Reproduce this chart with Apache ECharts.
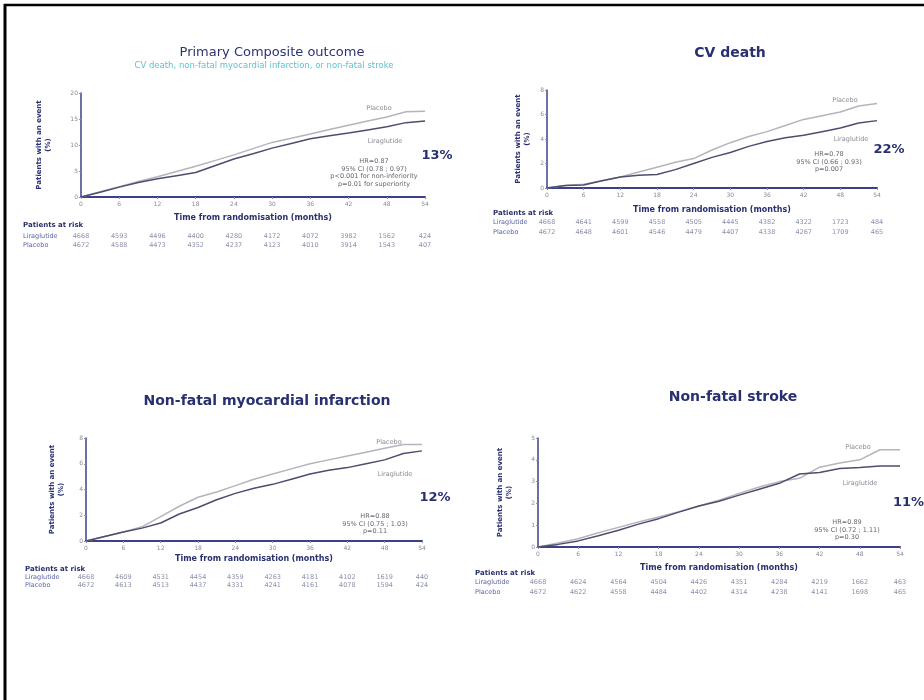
<!DOCTYPE html>
<html>
<head>
<meta charset="utf-8">
<script src="https://cdn.jsdelivr.net/npm/echarts@6/dist/echarts.min.js"></script>
<style>
  html, body { margin: 0; padding: 0; background: #fff; }
  #chart { width: 924px; height: 700px; }
</style>
</head>
<body>
<div id="chart"></div>
<script>
// Time axis of the cumulative-incidence curves (months from randomisation)
const months = [0, 3, 6, 9, 12, 15, 18, 21, 24, 27, 30, 33, 36, 39, 42, 45, 48, 51, 54];
// Time points of the patients-at-risk table
const riskMonths = [0, 6, 12, 18, 24, 30, 36, 42, 48, 54];
const armNames = ['Liraglutide', 'Placebo'];

// Primary composite outcome (% with an event)
const compositePlacebo = [0, 1.0, 2.0, 3.0, 3.9, 4.9, 5.9, 7.0, 8.1, 9.3, 10.5, 11.3, 12.1, 13.0, 13.8, 14.6, 15.4, 16.4, 16.5];
const compositeLira    = [0, 0.9, 1.9, 2.8, 3.5, 4.1, 4.7, 6.0, 7.3, 8.3, 9.4, 10.3, 11.2, 11.8, 12.3, 12.9, 13.5, 14.3, 14.6];
const compositeRiskLira    = [4668, 4593, 4496, 4400, 4280, 4172, 4072, 3982, 1562, 424];
const compositeRiskPlacebo = [4672, 4588, 4473, 4352, 4237, 4123, 4010, 3914, 1543, 407];

// CV death
const cvPlacebo = [0, 0.2, 0.3, 0.6, 0.9, 1.3, 1.7, 2.1, 2.4, 3.1, 3.7, 4.2, 4.6, 5.1, 5.6, 5.9, 6.2, 6.7, 6.9];
const cvLira    = [0, 0.2, 0.25, 0.6, 0.9, 1.05, 1.1, 1.5, 2.0, 2.5, 2.9, 3.4, 3.8, 4.1, 4.3, 4.6, 4.9, 5.3, 5.5];
const cvRiskLira    = [4668, 4641, 4599, 4558, 4505, 4445, 4382, 4322, 1723, 484];
const cvRiskPlacebo = [4672, 4648, 4601, 4546, 4479, 4407, 4338, 4267, 1709, 465];

// Non-fatal myocardial infarction
const miPlacebo = [0, 0.35, 0.7, 1.1, 1.9, 2.7, 3.4, 3.8, 4.3, 4.8, 5.2, 5.6, 6.0, 6.3, 6.6, 6.9, 7.2, 7.5, 7.5];
const miLira    = [0, 0.35, 0.7, 1.0, 1.4, 2.1, 2.6, 3.2, 3.7, 4.1, 4.4, 4.8, 5.2, 5.5, 5.7, 6.0, 6.3, 6.8, 7.0];
const miRiskLira    = [4668, 4609, 4531, 4454, 4359, 4263, 4181, 4102, 1619, 440];
const miRiskPlacebo = [4672, 4613, 4513, 4437, 4331, 4241, 4161, 4078, 1594, 424];

// Non-fatal stroke
const strokePlacebo = [0, 0.18, 0.38, 0.65, 0.9, 1.15, 1.38, 1.62, 1.88, 2.15, 2.46, 2.75, 3.0, 3.15, 3.66, 3.85, 4.0, 4.46, 4.46];
const strokeLira    = [0, 0.12, 0.28, 0.52, 0.77, 1.05, 1.3, 1.6, 1.88, 2.1, 2.38, 2.65, 2.92, 3.35, 3.42, 3.6, 3.65, 3.72, 3.72];
const strokeRiskLira    = [4668, 4624, 4564, 4504, 4426, 4351, 4284, 4219, 1662, 463];
const strokeRiskPlacebo = [4672, 4622, 4558, 4484, 4402, 4314, 4238, 4141, 1698, 465];

// Y-axis scales of the four panels
const yMax = [20, 8, 8, 5];
const yStep = [5, 2, 2, 1];

const FONT = 'DejaVu Sans';
const NAVY = '#28306f';
const GREY_TXT = '#6d6f84';
const LIRA_COLOR = '#4b4e6e';
const PLACEBO_COLOR = '#b4b4bc';

// Panel layout (plot areas and patients-at-risk strips)
const panels = [
  { grid: { left: 81, top: 93, width: 344, height: 104 }, risk: { top: 232, height: 18 }, rowLeft: 23, yGap: 28, xGap: 17,
    placebo: compositePlacebo, lira: compositeLira, riskL: compositeRiskLira, riskP: compositeRiskPlacebo },
  { grid: { left: 547, top: 90, width: 330, height: 98 }, risk: { top: 217, height: 20 }, rowLeft: 493, yGap: 15, xGap: 18,
    placebo: cvPlacebo, lira: cvLira, riskL: cvRiskLira, riskP: cvRiskPlacebo },
  { grid: { left: 86, top: 438, width: 336, height: 103 }, risk: { top: 573, height: 16 }, rowLeft: 25, yGap: 20, xGap: 14,
    placebo: miPlacebo, lira: miLira, riskL: miRiskLira, riskP: miRiskPlacebo },
  { grid: { left: 538, top: 438, width: 362, height: 109 }, risk: { top: 577, height: 20 }, rowLeft: 475, yGap: 24, xGap: 17,
    placebo: strokePlacebo, lira: strokeLira, riskL: strokeRiskLira, riskP: strokeRiskPlacebo }
];

const grids = [], xAxes = [], yAxes = [], series = [];

panels.forEach((p, i) => {
  grids.push(Object.assign({ containLabel: false }, p.grid));
  xAxes.push({
    gridIndex: i, type: 'value', min: 0, max: 54, interval: 6,
    name: 'Time from randomisation (months)', nameLocation: 'middle', nameGap: p.xGap,
    nameTextStyle: { fontFamily: FONT, fontSize: 8, fontWeight: 'bold', color: NAVY },
    axisLine: { lineStyle: { color: '#3a4188', width: 2 } },
    axisTick: { length: 2, lineStyle: { color: '#8a8db0' } },
    axisLabel: { fontFamily: FONT, fontSize: 6, color: '#8a8a96', margin: 4 },
    splitLine: { show: false }
  });
  yAxes.push({
    gridIndex: i, type: 'value', min: 0, max: yMax[i], interval: yStep[i],
    name: 'Patients with an event\n(%)', nameLocation: 'middle', nameGap: p.yGap,
    nameTextStyle: { fontFamily: FONT, fontSize: 7, fontWeight: 'bold', color: NAVY, lineHeight: 9 },
    axisLine: { show: true, lineStyle: { color: '#3a4188', width: 1.5 } },
    axisTick: { show: true, length: 2, lineStyle: { color: '#8a8db0' } },
    axisLabel: { fontFamily: FONT, fontSize: 6, color: '#8a8a96', margin: 3 },
    splitLine: { show: false }
  });
  series.push({
    name: 'Placebo', type: 'line', xAxisIndex: i, yAxisIndex: i, showSymbol: false, silent: true,
    lineStyle: { color: PLACEBO_COLOR, width: 1.5 },
    data: months.map((m, k) => [m, p.placebo[k]])
  });
  series.push({
    name: 'Liraglutide', type: 'line', xAxisIndex: i, yAxisIndex: i, showSymbol: false, silent: true,
    lineStyle: { color: LIRA_COLOR, width: 1.5 },
    data: months.map((m, k) => [m, p.lira[k]])
  });
});

// Patients-at-risk tables, laid out on the same month scale as each panel
panels.forEach((p, i) => {
  const gi = 4 + i;
  grids.push({ left: p.grid.left, width: p.grid.width, top: p.risk.top, height: p.risk.height });
  xAxes.push({ gridIndex: gi, type: 'value', min: 0, max: 54, show: false });
  yAxes.push({
    gridIndex: gi, type: 'category', data: armNames, inverse: true,
    axisLine: { show: false }, axisTick: { show: false }, splitLine: { show: false },
    axisLabel: { interval: 0, hideOverlap: false, align: 'left', margin: p.grid.left - p.rowLeft,
                 fontFamily: FONT, fontSize: 6.5, color: '#5b64a6' }
  });
  const rows = [p.riskL, p.riskP];
  series.push({
    type: 'scatter', xAxisIndex: gi, yAxisIndex: gi, symbolSize: 0, silent: true,
    data: rows.flatMap((row, r) => riskMonths.map((m, k) => [m, r, row[k]])),
    label: { show: true, position: 'inside', formatter: d => d.value[2], fontFamily: FONT, fontSize: 6.5, color: '#6e7296' },
    labelLayout: { hideOverlap: false }
  });
});

function txt(x, y, text, o) {
  return {
    type: 'text', x: x, y: y, silent: true,
    style: Object.assign({ text: text, fontFamily: FONT, fontSize: 7, fill: GREY_TXT, align: 'center', verticalAlign: 'middle' }, o || {})
  };
}
const hrStyle = { fontSize: 6.5, fill: '#66666f', lineHeight: 7.5 };
const bigPct = { fontSize: 13, fontWeight: 'bold', fill: NAVY };
const header = { fontSize: 7, fontWeight: 'bold', fill: NAVY, align: 'left' };
const armLbl = { fontSize: 6.5, fill: '#8a8a94' };

const graphic = [
  // frame
  { type: 'line', silent: true, shape: { x1: 4, y1: 5, x2: 924, y2: 5 }, style: { stroke: '#000', lineWidth: 2.5 } },
  { type: 'line', silent: true, shape: { x1: 5, y1: 4, x2: 5, y2: 700 }, style: { stroke: '#000', lineWidth: 3 } },

  // Primary composite outcome
  txt(272, 53, 'Primary Composite outcome', { fontSize: 13, fill: '#2e3375' }),
  txt(264, 66, 'CV death, non-fatal myocardial infarction, or non-fatal stroke', { fontSize: 8.5, fill: '#5cc3d0' }),
  txt(379, 108, 'Placebo', armLbl),
  txt(385, 141, 'Liraglutide', armLbl),
  txt(374, 173, 'HR=0.87\n95% CI (0.78 ; 0.97)\np<0.001 for non-inferiority\np=0.01 for superiority', hrStyle),
  txt(437, 156, '13%', bigPct),
  txt(23, 225, 'Patients at risk', header),

  // CV death
  txt(730, 53, 'CV death', { fontSize: 14, fontWeight: 'bold', fill: NAVY }),
  txt(845, 100, 'Placebo', armLbl),
  txt(851, 139, 'Liraglutide', armLbl),
  txt(829, 162, 'HR=0.78\n95% CI (0.66 ; 0.93)\np=0.007', hrStyle),
  txt(889, 150, '22%', bigPct),
  txt(493, 213, 'Patients at risk', header),

  // Non-fatal myocardial infarction
  txt(267, 401, 'Non-fatal myocardial infarction', { fontSize: 14, fontWeight: 'bold', fill: NAVY }),
  txt(389, 442, 'Placebo', armLbl),
  txt(395, 474, 'Liraglutide', armLbl),
  txt(375, 524, 'HR=0.88\n95% CI (0.75 ; 1.03)\np=0.11', hrStyle),
  txt(435, 498, '12%', bigPct),
  txt(25, 569, 'Patients at risk', header),

  // Non-fatal stroke
  txt(733, 397, 'Non-fatal stroke', { fontSize: 14, fontWeight: 'bold', fill: NAVY }),
  txt(858, 447, 'Placebo', armLbl),
  txt(860, 483, 'Liraglutide', armLbl),
  txt(847, 530, 'HR=0.89\n95% CI (0.72 ; 1.11)\np=0.30', hrStyle),
  txt(893, 503, '11%', Object.assign({}, bigPct, { align: 'left' })),
  txt(475, 573, 'Patients at risk', header)
];

const chart = echarts.init(document.getElementById('chart'), null, { renderer: 'canvas' });
chart.setOption({
  animation: false,
  backgroundColor: '#ffffff',
  grid: grids,
  xAxis: xAxes,
  yAxis: yAxes,
  series: series,
  graphic: graphic
});
</script>
</body>
</html>
